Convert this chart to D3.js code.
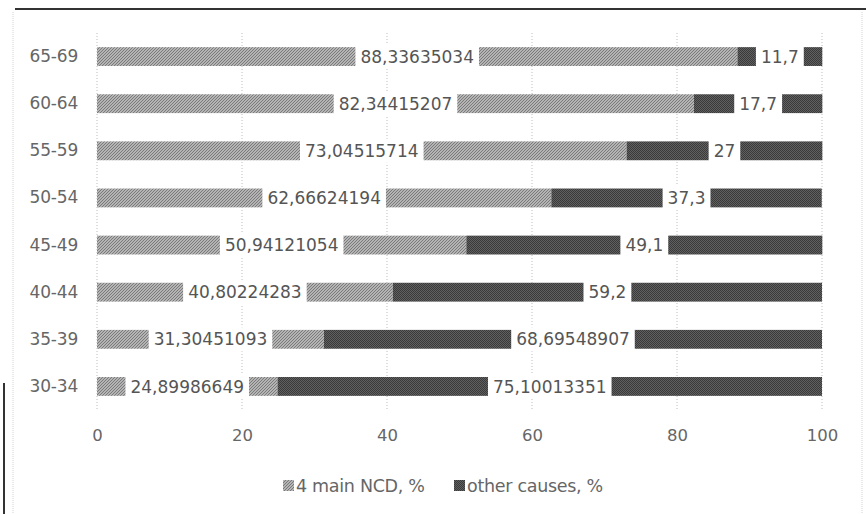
<!DOCTYPE html>
<html>
<head>
<meta charset="utf-8">
<script src="https://cdn.jsdelivr.net/npm/d3@7"></script>
<style>
  html, body { margin: 0; padding: 0; background: #fff; }
  svg { display: block; }
</style>
</head>
<body>
<script>
// Age groups, top to bottom
const categories = ["65-69", "60-64", "55-59", "50-54", "45-49", "40-44", "35-39", "30-34"];
// Share of deaths from the 4 main NCD, %
const ncdValues = [88.33635034, 82.34415207, 73.04515714, 62.66624194, 50.94121054, 40.80224283, 31.30451093, 24.89986649];
// Share of deaths from other causes, %
const otherValues = [11.7, 17.7, 27, 37.3, 49.1, 59.2, 68.69548907, 75.10013351];
const xTicks = [0, 20, 40, 60, 80, 100];
const seriesNames = ["4 main NCD, %", "other causes, %"];

const W = 866, H = 514;
const FONT = "'DejaVu Sans', Verdana, sans-serif";

const svg = d3.select("body").append("svg")
  .attr("width", W).attr("height", H);

// hatch patterns for the two series
const defs = svg.append("defs");
const pNcd = defs.append("pattern")
  .attr("id", "hatchNcd").attr("patternUnits", "userSpaceOnUse")
  .attr("width", 3).attr("height", 3);
pNcd.append("rect").attr("width", 3).attr("height", 3).attr("fill", "#b4b4b4");
pNcd.append("path").attr("d", "M-1,1 L1,-1 M0,3 L3,0 M2,4 L4,2")
  .attr("stroke", "#7a7a7a").attr("stroke-width", 1);

const pOther = defs.append("pattern")
  .attr("id", "hatchOther").attr("patternUnits", "userSpaceOnUse")
  .attr("width", 2).attr("height", 2);
pOther.append("rect").attr("width", 2).attr("height", 2).attr("fill", "#606060");
pOther.append("rect").attr("width", 1).attr("height", 1).attr("fill", "#3a3a3a");
pOther.append("rect").attr("x", 1).attr("y", 1).attr("width", 1).attr("height", 1).attr("fill", "#3a3a3a");

// page frame lines
svg.append("line").attr("x1", 15).attr("x2", W).attr("y1", 9).attr("y2", 9)
  .attr("stroke", "#333").attr("stroke-width", 2);
svg.append("line").attr("x1", 13).attr("x2", 13).attr("y1", 12).attr("y2", H)
  .attr("stroke", "#d4d4d4").attr("stroke-width", 1).attr("stroke-dasharray", "1,1");
svg.append("line").attr("x1", 862).attr("x2", 862).attr("y1", 12).attr("y2", H)
  .attr("stroke", "#d4d4d4").attr("stroke-width", 1).attr("stroke-dasharray", "1,1");
svg.append("line").attr("x1", 4).attr("x2", 4).attr("y1", 383).attr("y2", H)
  .attr("stroke", "#333").attr("stroke-width", 2);

const x = d3.scaleLinear().domain([0, 100]).range([97, 822]);
const y = d3.scaleBand().domain(categories).range([33, 410]).paddingInner(0.6).paddingOuter(0.3);

// vertical gridlines
svg.append("g").selectAll("line").data(xTicks).join("line")
  .attr("x1", d => x(d)).attr("x2", d => x(d))
  .attr("y1", 33).attr("y2", 410)
  .attr("stroke", "#bdbdbd").attr("stroke-width", 1).attr("stroke-dasharray", "1,2");

// x axis tick labels
const xAxis = d3.axisBottom(x).tickValues(xTicks).tickSize(0).tickPadding(0);
const gx = svg.append("g").attr("transform", "translate(0,428)").call(xAxis);
gx.select(".domain").remove();
gx.selectAll("text").attr("font-family", FONT).attr("font-size", 16.5)
  .attr("fill", "#666").attr("dy", "0.35em").attr("y", 7);

// category axis labels
const yAxis = d3.axisLeft(y).tickSize(0).tickPadding(0);
const gy = svg.append("g").attr("transform", "translate(78,0)").call(yAxis);
gy.select(".domain").remove();
gy.selectAll("text").attr("font-family", FONT).attr("font-size", 17)
  .attr("fill", "#666").attr("letter-spacing", "-0.2px");

const rows = categories.map((c, i) => ({ cat: c, ncd: ncdValues[i], other: otherValues[i] }));

// stacked bars
const bars = svg.append("g");
bars.selectAll("rect.ncd").data(rows).join("rect").attr("class", "ncd")
  .attr("x", x(0)).attr("y", d => y(d.cat))
  .attr("width", d => x(d.ncd) - x(0)).attr("height", y.bandwidth())
  .attr("fill", "url(#hatchNcd)");
bars.selectAll("rect.other").data(rows).join("rect").attr("class", "other")
  .attr("x", d => x(d.ncd)).attr("y", d => y(d.cat))
  .attr("width", d => x(d.ncd + d.other) - x(d.ncd)).attr("height", y.bandwidth())
  .attr("fill", "url(#hatchOther)");

// value labels centred on each segment, on white boxes
const fmt = v => String(v).replace(".", ",");
const labels = [];
rows.forEach(d => {
  labels.push({ cat: d.cat, cx: x(d.ncd / 2), text: fmt(d.ncd) });
  labels.push({ cat: d.cat, cx: x(d.ncd + d.other / 2), text: fmt(d.other) });
});
const lg = svg.append("g").selectAll("g").data(labels).join("g")
  .attr("transform", d => `translate(${d.cx},${y(d.cat) + y.bandwidth() / 2})`);
const lt = lg.append("text").text(d => d.text)
  .attr("text-anchor", "middle").attr("dy", "0.36em")
  .attr("font-family", FONT).attr("font-size", 17).attr("fill", "#555");
lt.each(function () {
  const b = this.getBBox();
  d3.select(this.parentNode).insert("rect", "text")
    .attr("x", b.x - 5).attr("y", -12).attr("width", b.width + 10).attr("height", 24)
    .attr("fill", "#fff");
});

// legend
const legendItems = [
  { name: seriesNames[0], fill: "url(#hatchNcd)", x: 283 },
  { name: seriesNames[1], fill: "url(#hatchOther)", x: 454 }
];
const leg = svg.append("g").selectAll("g").data(legendItems).join("g")
  .attr("transform", d => `translate(${d.x},486)`);
leg.append("rect").attr("x", 0).attr("y", -6).attr("width", 11).attr("height", 11)
  .attr("fill", d => d.fill);
leg.append("text").text(d => d.name).attr("x", 13).attr("dy", "0.35em")
  .attr("font-family", FONT).attr("font-size", 17.5).attr("fill", "#666")
  .attr("letter-spacing", "-0.3px");
</script>
</body>
</html>
